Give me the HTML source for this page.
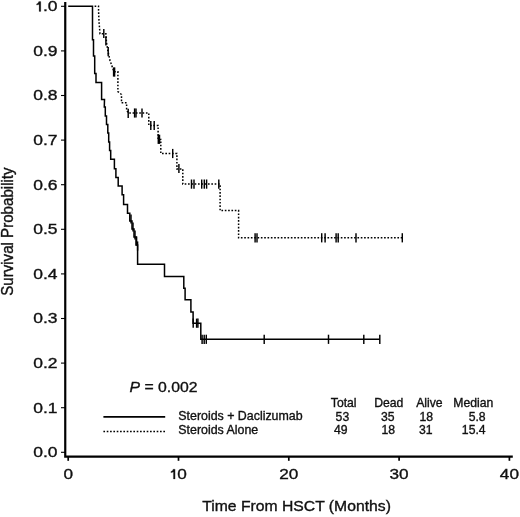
<!DOCTYPE html>
<html><head><meta charset="utf-8"><title>Survival</title>
<style>
html,body{margin:0;padding:0;background:#fff;}
body{width:520px;height:517px;overflow:hidden;}
svg{display:block;will-change:transform;}
text{font-family:"Liberation Sans",sans-serif;fill:#111;stroke:#111;stroke-width:0.35px;}
</style></head><body>
<svg width="520" height="517" viewBox="0 0 520 517">
<rect width="520" height="517" fill="#fff"/>

<g stroke="#000" fill="none">
<path d="M65.25,2.1 V456.6 H512.8" stroke-width="2.2" stroke-linejoin="miter"/>
<path d="M61,452.30 H65" stroke-width="1.1"/>
<path d="M61,407.70 H65" stroke-width="1.1"/>
<path d="M61,363.10 H65" stroke-width="1.1"/>
<path d="M61,318.50 H65" stroke-width="1.1"/>
<path d="M61,273.90 H65" stroke-width="1.1"/>
<path d="M61,229.30 H65" stroke-width="1.1"/>
<path d="M61,184.70 H65" stroke-width="1.1"/>
<path d="M61,140.10 H65" stroke-width="1.1"/>
<path d="M61,95.50 H65" stroke-width="1.1"/>
<path d="M61,50.90 H65" stroke-width="1.1"/>
<path d="M61,6.30 H65" stroke-width="1.1"/>
<path d="M68.20,457 V460.8" stroke-width="1.7"/>
<path d="M178.50,457 V460.8" stroke-width="1.7"/>
<path d="M288.80,457 V460.8" stroke-width="1.7"/>
<path d="M399.10,457 V460.8" stroke-width="1.7"/>
<path d="M509.40,457 V460.8" stroke-width="1.7"/>
</g>
<text transform="translate(57.6,457.20) scale(1.19,1)" font-size="14.7" text-anchor="end">0.0</text>
<text transform="translate(57.6,412.60) scale(1.19,1)" font-size="14.7" text-anchor="end">0.1</text>
<text transform="translate(57.6,368.00) scale(1.19,1)" font-size="14.7" text-anchor="end">0.2</text>
<text transform="translate(57.6,323.40) scale(1.19,1)" font-size="14.7" text-anchor="end">0.3</text>
<text transform="translate(57.6,278.80) scale(1.19,1)" font-size="14.7" text-anchor="end">0.4</text>
<text transform="translate(57.6,234.20) scale(1.19,1)" font-size="14.7" text-anchor="end">0.5</text>
<text transform="translate(57.6,189.60) scale(1.19,1)" font-size="14.7" text-anchor="end">0.6</text>
<text transform="translate(57.6,145.00) scale(1.19,1)" font-size="14.7" text-anchor="end">0.7</text>
<text transform="translate(57.6,100.40) scale(1.19,1)" font-size="14.7" text-anchor="end">0.8</text>
<text transform="translate(57.6,55.80) scale(1.19,1)" font-size="14.7" text-anchor="end">0.9</text>
<path d="M39.10,1.60 H40.80 V11.40 H39.10 V4.50 L36.60,5.10 V3.90 Q38.50,3.50 38.80,1.60 Z" fill="#111" stroke="#111" stroke-width="0.2"/>
<text transform="translate(57.6,11.20) scale(1.19,1)" font-size="14.7" text-anchor="end">.0</text>
<text transform="translate(68.20,479.2) scale(1.17,1)" font-size="14.7" text-anchor="middle">0</text>
<path d="M173.40,469.20 H175.10 V479.00 H173.40 V472.10 L170.90,472.70 V471.50 Q172.80,471.10 173.10,469.20 Z" fill="#111" stroke="#111" stroke-width="0.2"/>
<text transform="translate(177.2,479.2) scale(1.17,1)" font-size="14.7">0</text>
<text transform="translate(288.80,479.2) scale(1.17,1)" font-size="14.7" text-anchor="middle">20</text>
<text transform="translate(399.10,479.2) scale(1.17,1)" font-size="14.7" text-anchor="middle">30</text>
<text transform="translate(509.40,479.2) scale(1.17,1)" font-size="14.7" text-anchor="middle">40</text>
<text transform="translate(12.9,231.6) rotate(-90) scale(0.95,1)" font-size="15.9" text-anchor="middle">Survival Probability</text>
<text transform="translate(296.5,511.3) scale(1.07,1)" font-size="14.7" text-anchor="middle">Time From HSCT (Months)</text>
<path d="M68.2,6.2 L92.5,6.2 L92.5,39.7 L93.5,39.7 L93.5,56.0 L94.7,56.0 L94.7,73.5 L96.0,73.5 L96.0,82.6 L101.6,82.6 L101.6,99.4 L104.5,99.4 L104.3,107.0 L105.3,107.0 L105.3,116.0 L106.5,116.0 L106.5,124.5 L107.8,124.5 L107.8,133.0 L108.7,133.0 L108.7,141.9 L109.6,141.9 L109.6,150.5 L110.7,150.5 L110.7,159.3 L114.4,159.3 L114.4,168.7 L115.9,168.7 L115.9,177.4 L118.2,177.4 L118.2,186.1 L122.1,186.1 L122.1,194.8 L123.6,194.8 L123.6,204.5 L127.5,204.5 L127.5,213.2 L129.8,213.2 L129.8,221.0 L132.0,221.0 L132.0,229.0 L134.0,229.0 L134.0,237.0 L136.0,237.0 L136.0,245.0 L137.6,245.0 L137.6,264.3 L164.5,264.3 L164.5,276.5 L183.8,276.5 L183.8,288.3 L185.1,288.3 L185.1,299.8 L190.9,299.8 L190.9,311.9 L193.1,311.9 L193.1,323.2 L200.8,323.2 L200.8,339.3 L379.8,339.3" fill="none" stroke="#000" stroke-width="1.5" stroke-linejoin="miter"/>
<path d="M94.6,6.2 L98.5,6.2 L98.7,15.0 L99.2,24.0 L100.0,33.8 L105.9,33.8 L106.5,42.5 L108.0,51.5 L110.0,60.5 L114.0,71.8 L117.9,71.8 L117.9,91.6 L121.5,94.5 L121.5,102.8 L126.6,102.8 L126.6,110.0 L128.2,113.0 L148.8,113.0 L148.8,125.5 L158.1,125.5 L158.1,139.5 L160.8,139.5 L160.8,153.5 L176.9,153.5 L176.9,169.0 L182.8,169.0 L182.8,184.1 L220.1,184.1 L220.1,210.6 L238.6,210.6 L238.6,237.8 L402.3,237.8" fill="none" stroke="#000" stroke-width="1.5" stroke-dasharray="1.65 1.68"/>
<g stroke="#000" stroke-width="1.45">
<path d="M193.2,318.6 V327.8"/>
<path d="M196.6,318.6 V327.8"/>
<path d="M197.9,318.6 V327.8"/>
<path d="M202.1,334.7 V343.9"/>
<path d="M204.2,334.7 V343.9"/>
<path d="M206.3,334.7 V343.9"/>
<path d="M264.2,334.7 V343.9"/>
<path d="M328.5,334.7 V343.9"/>
<path d="M363.8,334.7 V343.9"/>
<path d="M379.8,334.7 V343.9"/>
<path d="M131.0,214.4 V223.6"/>
<path d="M133.0,222.4 V231.6"/>
<path d="M135.0,230.4 V239.6"/>
<path d="M136.6,236.4 V245.6"/>
<path d="M137.6,241.4 V250.6"/>
<path d="M103.8,28.9 V38.1"/>
<path d="M105.9,36.4 V45.6"/>
<path d="M108.2,47.1 V56.3"/>
<path d="M113.6,67.4 V76.6"/>
<path d="M114.6,67.4 V76.6"/>
<path d="M128.2,108.7 V117.9"/>
<path d="M134.6,108.4 V117.6"/>
<path d="M136.0,108.4 V117.6"/>
<path d="M142.0,108.4 V117.6"/>
<path d="M150.8,120.9 V130.1"/>
<path d="M154.2,120.9 V130.1"/>
<path d="M158.3,134.7 V143.9"/>
<path d="M159.5,134.7 V143.9"/>
<path d="M172.7,148.9 V158.1"/>
<path d="M178.9,163.9 V173.1"/>
<path d="M191.5,179.5 V188.7"/>
<path d="M194.0,179.5 V188.7"/>
<path d="M201.7,179.5 V188.7"/>
<path d="M204.3,179.5 V188.7"/>
<path d="M206.6,179.5 V188.7"/>
<path d="M218.8,179.5 V188.7"/>
<path d="M255.1,233.2 V242.4"/>
<path d="M257.0,233.2 V242.4"/>
<path d="M321.7,233.2 V242.4"/>
<path d="M325.1,233.2 V242.4"/>
<path d="M336.1,233.2 V242.4"/>
<path d="M338.2,233.2 V242.4"/>
<path d="M356.0,233.2 V242.4"/>
<path d="M402.3,233.2 V242.4"/>
</g>
<text transform="translate(129.5,392.1) scale(1.07,1)" font-size="14.75"><tspan font-style="italic">P</tspan> = 0.002</text>
<path d="M103.4,416.8 H165.2" stroke="#000" stroke-width="1.8"/>
<path d="M103.4,431.5 H165" stroke="#000" stroke-width="1.5" stroke-dasharray="1.65 1.68"/>
<g font-size="12.4">
<text x="178.3" y="420.3">Steroids + Daclizumab</text>
<text x="178.3" y="433.7">Steroids Alone</text>
</g><g font-size="12.2">
<text x="343.7" y="406.9" text-anchor="middle">Total</text>
<text x="342.4" y="420.7" text-anchor="middle">53</text>
<text x="340.7" y="434.2" text-anchor="middle">49</text>
<text x="388.7" y="406.9" text-anchor="middle">Dead</text>
<text x="387.7" y="420.7" text-anchor="middle">35</text>
<text x="388.3" y="434.2" text-anchor="middle">18</text>
<text x="429.4" y="406.9" text-anchor="middle">Alive</text>
<text x="426.2" y="420.7" text-anchor="middle">18</text>
<text x="425.8" y="434.2" text-anchor="middle">31</text>
<text x="473.3" y="406.9" text-anchor="middle">Median</text>
<text x="485.6" y="420.7" text-anchor="end">5.8</text>
<text x="485.6" y="434.2" text-anchor="end">15.4</text>
</g>
</svg></body></html>
